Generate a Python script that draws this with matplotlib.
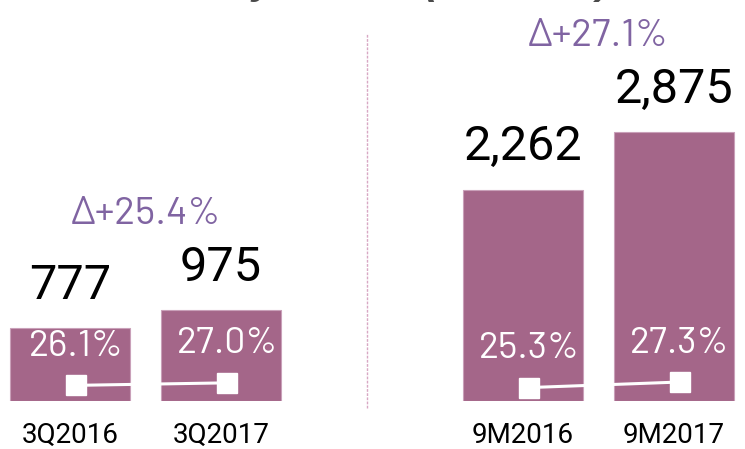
import matplotlib
matplotlib.use("Agg")
import matplotlib.pyplot as plt

# EBITDA, RUB mn, and EBITDA margin, %
periods = ["3Q2016", "3Q2017", "9M2016", "9M2017"]
ebitda = [777, 975, 2262, 2875]
margin = [26.1, 27.0, 25.3, 27.3]
growth = [25.4, 27.1]

bar_color = "#a46689"
delta_color = "#8064a2"
din_like = ["Barlow", "DejaVu Sans"]

# two groups of two bars, with an empty slot between the groups
pos = [0, 1, 3, 4]
groups = [(0, 1), (2, 3)]

fig = plt.figure(figsize=(7.45, 4.49), dpi=100)
ax = fig.add_axes([0, 48 / 449, 1, 401 / 449])
ax.set_xlim(-70 / 151, 675 / 151)
ax.set_ylim(0, 4290)

ax.bar(pos, ebitda, width=0.8, color=bar_color, edgecolor="#c9a0b9", linewidth=0.8)

for p, v in zip(pos, ebitda):
    ax.annotate(f"{v:,}", (p, v), xytext=(0, 21), textcoords="offset points",
                ha="center", va="baseline", fontsize=35, family="Roboto", color="black")

for (i, j), g in zip(groups, growth):
    ax.annotate(f"\u0394+{g}%", ((pos[i] + pos[j]) / 2, max(ebitda[i], ebitda[j])),
                xytext=(0, 62), textcoords="offset points", ha="center", va="baseline",
                fontsize=28, family=din_like, color=delta_color)

ax.set_xticks(pos, periods)
ax.tick_params(axis="x", length=0, pad=15, labelsize=20)
for lbl in ax.get_xticklabels():
    lbl.set_family("Roboto")
ax.set_yticks([])
for s in ax.spines.values():
    s.set_visible(False)

# thin dotted divider between quarter and nine-month groups
ax.axvline(1.97, ymin=-0.017, ymax=0.918, color="#d8a8c4", lw=1,
           ls=(0, (2, 1)), clip_on=False)

# margin line on its own scale
ax2 = ax.twinx()
ax2.set_ylim(20.47, 164.7)
ax2.set_axis_off()
off = 0.04
for i, j in groups:
    xs = [pos[i] + off, pos[j] + off]
    ys = [margin[i], margin[j]]
    ax2.plot(xs, ys, color="white", lw=2.2, marker="s", ms=14,
             mfc="white", mec="white")
for p, m in zip(pos, margin):
    ax2.annotate(f"{m:.1f}%", (p + off, m), xytext=(0, 28), textcoords="offset points",
                 ha="center", va="center", fontsize=27, family=din_like, color="white")

fig.text(0.455, 1.014, "EBITDA dynamics (RUB mn)", ha="center", va="baseline",
         fontsize=29, fontweight="bold", fontstyle="italic",
         family="Liberation Sans", color="#4a4a4a")

fig.savefig("out.png", dpi=100)
